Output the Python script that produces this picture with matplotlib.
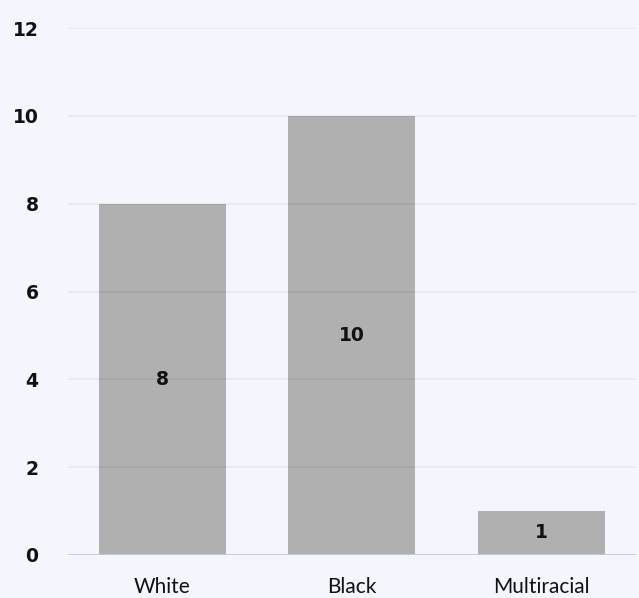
import matplotlib.pyplot as plt

categories = ["White", "Black", "Multiracial"]
counts = [8, 10, 1]
y_ticks = [0, 2, 4, 6, 8, 10, 12]

bg = "#f3f7fd"
fig = plt.figure(figsize=(6.39, 5.98), dpi=100, facecolor=bg)
ax = fig.add_axes([0.106, 0.072, 0.889, 0.881], facecolor=bg)

x = range(len(categories))
ax.bar(x, counts, width=0.67, color="#b0b0b0", zorder=1)

# gridlines over the bars, faint
for t in y_ticks[1:]:
    ax.axhline(t, color="black", alpha=0.055, lw=1.2, zorder=2)
ax.axhline(0, color="#c6c9ce", lw=1.3, zorder=3)

for i, v in enumerate(counts):
    ax.text(i, v / 2, str(v), ha="center", va="center",
            fontsize=13.5, fontweight="bold", color="#111111", zorder=4)

ax.set_xlim(-0.5, 2.5)
ax.set_ylim(0, 12)
ax.set_yticks(y_ticks)
ax.set_yticklabels([str(t) for t in y_ticks], fontsize=13.5, fontweight="bold", color="#111111")
ax.set_xticks(list(x))
ax.set_xticklabels(categories, fontsize=15, family="Lato", color="#111111")
ax.tick_params(axis="y", length=0, pad=21)
ax.tick_params(axis="x", length=0, pad=16)
for s in ax.spines.values():
    s.set_visible(False)

fig.savefig("out.png", dpi=100, facecolor=bg)
